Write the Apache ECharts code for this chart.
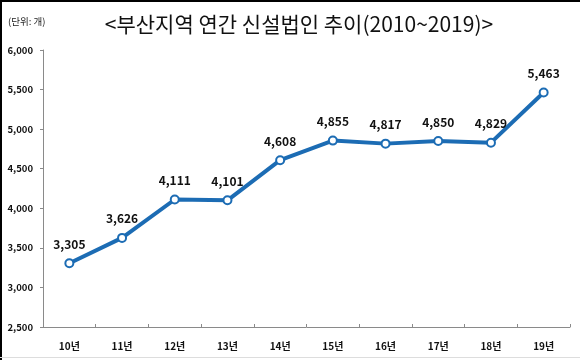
<!DOCTYPE html>
<html><head><meta charset="utf-8">
<script src="https://cdn.jsdelivr.net/npm/echarts@6/dist/echarts.min.js"></script>
<style>html,body{margin:0;padding:0;background:#fff}#c{width:580px;height:360px}</style>
</head><body><div id="c"></div>
<script>
const categories = ['10년','11년','12년','13년','14년','15년','16년','17년','18년','19년'];
const values = [3305, 3626, 4111, 4101, 4608, 4855, 4817, 4850, 4829, 5463];
const titleText = '<부산지역 연간 신설법인 추이(2010~2019)>';
const unitText = '(단위: 개)';
const FONT = '"Noto Sans CJK KR", "Noto Sans", sans-serif';
const chart = echarts.init(document.getElementById('c'));
chart.setOption({
  backgroundColor: '#fff',
  animation: false,
  title: [
    {text: titleText, left: 294, top: 9, textAlign: 'center',
     textStyle: {fontFamily: FONT, fontSize: 21, fontWeight: 'normal', color: '#111'}},
    {text: unitText, left: 3, top: 12,
     textStyle: {fontFamily: FONT, fontSize: 9.5, fontWeight: 'normal', color: '#222'}}
  ],
  grid: {left: 43, right: 10, top: 50, bottom: 33, containLabel: false},
  xAxis: {
    type: 'category', data: categories, boundaryGap: true,
    axisLine: {lineStyle: {color: '#8a8a8a', width: 1}},
    axisTick: {show: true, inside: true, length: 3, lineStyle: {color: '#8a8a8a'}},
    axisLabel: {fontFamily: FONT, fontSize: 10, fontWeight: 'bold', color: '#111', margin: 14}
  },
  yAxis: {
    type: 'value', min: 2500, max: 6000, interval: 500,
    splitLine: {show: false},
    axisLine: {show: true, lineStyle: {color: '#8a8a8a', width: 1}},
    axisTick: {show: true, length: 3, lineStyle: {color: '#8a8a8a'}},
    axisLabel: {fontFamily: FONT, fontSize: 9.5, fontWeight: 'bold', color: '#111', margin: 10,
      formatter: v => v.toLocaleString('en-US')}
  },
  series: [{
    type: 'line', data: values,
    lineStyle: {color: '#1c6cb4', width: 4},
    itemStyle: {color: '#fff', borderColor: '#1c6cb4', borderWidth: 2},
    symbol: 'circle', symbolSize: 8,
    label: {show: true, position: 'top', distance: 8, fontFamily: FONT, fontSize: 12,
      fontWeight: 'bold', color: '#111', formatter: p => p.value.toLocaleString('en-US')}
  }],
  graphic: [
    {type: 'rect', shape: {x: 0, y: 0, width: 580, height: 2}, style: {fill: '#000'}},
    {type: 'rect', shape: {x: 0, y: 0, width: 2, height: 360}, style: {fill: '#000'}},
    {type: 'rect', shape: {x: 0, y: 357, width: 580, height: 1}, style: {fill: '#ddd'}}
  ]
});
</script></body></html>
